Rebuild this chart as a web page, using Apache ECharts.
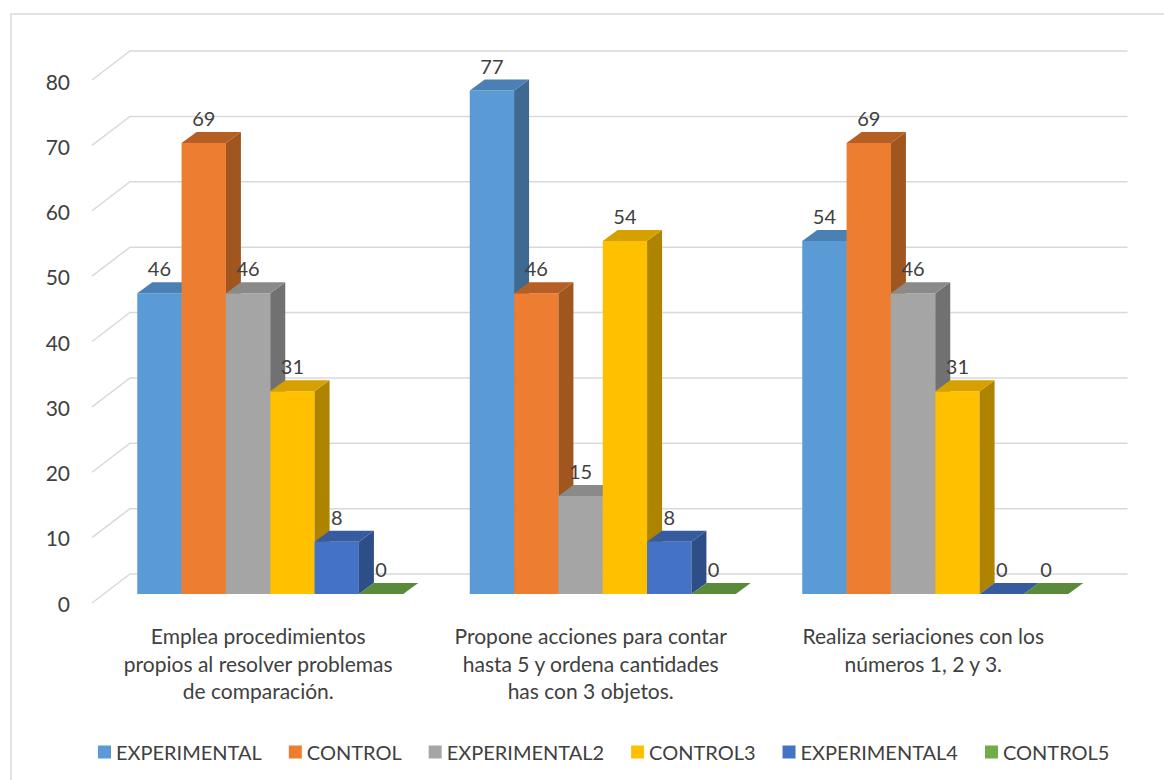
<!DOCTYPE html>
<html>
<head>
<meta charset="utf-8">
<script src="https://cdn.jsdelivr.net/npm/echarts@6/dist/echarts.min.js"></script>
<style>
html,body{margin:0;padding:0;background:#fff;}
#chart{width:1164px;height:780px;}
</style>
</head>
<body>
<div id="chart"></div>
<script>
// ---- data ----
var categories = [
  'Emplea procedimientos\npropios al resolver problemas\nde comparación.',
  'Propone acciones para contar\nhasta 5 y ordena cantidades\nhas con 3 objetos.',
  'Realiza seriaciones con los\nnúmeros 1, 2 y 3.'
];
var seriesNames = ['EXPERIMENTAL', 'CONTROL', 'EXPERIMENTAL2', 'CONTROL3', 'EXPERIMENTAL4', 'CONTROL5'];
var experimental  = [46, 77, 54];
var control       = [69, 46, 69];
var experimental2 = [46, 15, 46];
var control3      = [31, 54, 31];
var experimental4 = [8, 8, 0];
var control5      = [0, 0, 0];
var yTicks = [0, 10, 20, 30, 40, 50, 60, 70, 80];

var seriesValues = [experimental, control, experimental2, control3, experimental4, control5];
var colors = ['#5B9BD5', '#ED7D31', '#A5A5A5', '#FFC000', '#4472C4', '#70AD47'];
var sideColors = ['#3E6A92', '#A2561F', '#717171', '#AE8300', '#2E4E87', '#4C7630'];
var topColors = ['#4A80B3', '#B65F24', '#8A8A8A', '#D6A100', '#365C9F', '#5A8A3A'];

var FONT = 'Lato, "Open Sans", sans-serif';
var DX = 15, DY = 11;          // bar depth
var BX = 26, BY = 20;          // back wall offset from bar plane
var FX = -12, FY = 9;          // front plane offset from bar plane
var NS = seriesNames.length;

var chart = echarts.init(document.getElementById('chart'), null, {renderer: 'svg'});

function barRender(sIdx) {
  return function (params, api) {
    var cat = api.value(0), val = api.value(1);
    var p0 = api.coord([cat, 0]);
    var p1 = api.coord([cat, val]);
    var bandW = api.size([1, 0])[0];
    var barW = bandW * 0.8 / NS;
    var x0 = p0[0] - bandW * 0.4 + sIdx * barW;
    var x1 = x0 + barW;
    var yb = p0[1], yt = p1[1];
    var children = [];
    if (yb - yt > 0.5) {
      children.push({type: 'rect', shape: {x: x0, y: yt, width: barW, height: yb - yt},
        style: {fill: colors[sIdx]}, z2: 1});
      children.push({type: 'polygon', shape: {points: [[x1, yt], [x1 + DX, yt - DY], [x1 + DX, yb - DY], [x1, yb]]},
        style: {fill: sideColors[sIdx]}, z2: 1});
    }
    children.push({type: 'polygon', shape: {points: [[x0, yt], [x0 + DX, yt - DY], [x1 + DX, yt - DY], [x1, yt]]},
      style: {fill: topColors[sIdx]}, z2: 1});
    children.push({type: 'text', x: x0 + barW / 2, y: yt - 15, z2: 100,
      style: {text: String(val), fill: '#404040', font: '20px ' + FONT, align: 'center', verticalAlign: 'bottom'}});
    return {type: 'group', children: children};
  };
}

var series = [];
// gridlines (3D bent)
series.push({
  type: 'custom', name: '_grid', xAxisIndex: 0, yAxisIndex: 0, silent: true, z: 1,
  data: yTicks.map(function (v) { return [0, v]; }),
  renderItem: function (params, api) {
    var cs = params.coordSys;
    var y = api.coord([0, api.value(1)])[1];
    var left = cs.x, right = cs.x + cs.width;
    return {type: 'polyline', shape: {points: [[left + FX, y + FY], [left + BX, y - BY], [right + BX, y - BY]]},
      style: {stroke: '#D9D9D9', lineWidth: 1.5, fill: null}};
  }
});
seriesNames.forEach(function (name, s) {
  series.push({
    type: 'custom', name: name, xAxisIndex: 0, yAxisIndex: 0, z: 2,
    itemStyle: {color: colors[s]},
    data: seriesValues[s].map(function (v, i) { return [i, v]; }),
    renderItem: barRender(s)
  });
});

var option = {
  backgroundColor: '#fff',
  animation: false,
  graphic: [{type: 'rect', shape: {x: 11, y: 14, width: 1170, height: 800},
    style: {fill: null, stroke: '#D9D9D9', lineWidth: 1.5}, silent: true, z: -10}],
  legend: {
    data: seriesNames, left: 93, top: 737,
    icon: 'rect', itemWidth: 13, itemHeight: 13, itemGap: 27,
    textStyle: {fontFamily: FONT, fontSize: 20, color: '#404040'}
  },
  grid: [
    {left: 104, right: 62.5, top: 71, bottom: 186},
    {left: 92, right: 74.5, top: 81, bottom: 177}
  ],
  xAxis: [
    {type: 'category', gridIndex: 0, data: categories, show: false},
    {type: 'category', gridIndex: 1, data: categories,
      axisLine: {show: false}, axisTick: {show: false}, splitLine: {show: false},
      axisLabel: {margin: 19, interval: 0, fontFamily: FONT, fontSize: 21, lineHeight: 27.5, color: '#404040'}}
  ],
  yAxis: [
    {type: 'value', gridIndex: 0, min: 0, max: 80, interval: 10, show: false},
    {type: 'value', gridIndex: 1, min: 0, max: 80, interval: 10,
      axisLine: {show: false}, axisTick: {show: false}, splitLine: {show: false},
      axisLabel: {margin: 22, fontFamily: FONT, fontSize: 21, color: '#404040',
        formatter: function (v) { return yTicks.indexOf(v) >= 0 ? String(v) : ''; }}}
  ],
  series: series
};
chart.setOption(option);
</script>
</body>
</html>
